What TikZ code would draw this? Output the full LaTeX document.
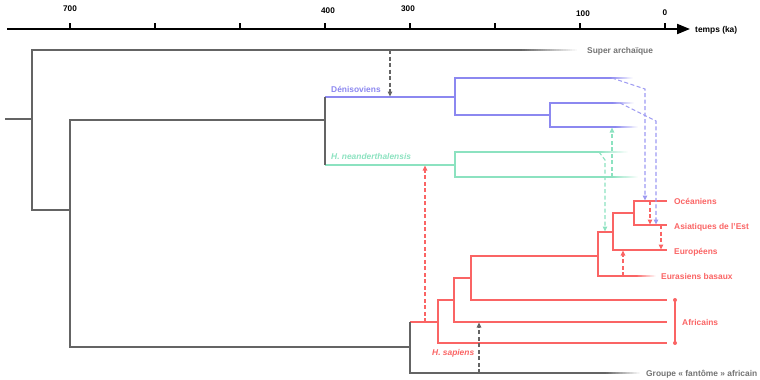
\documentclass[tikz,border=0pt]{standalone}
\usepackage{fontspec}
\setmainfont{Liberation Sans}
\usetikzlibrary{arrows.meta}
\definecolor{cgray}{RGB}{100,100,100}
\definecolor{ctgray}{RGB}{115,115,115}
\definecolor{cpurp}{RGB}{140,136,240}
\definecolor{cteal}{RGB}{140,226,192}
\definecolor{cred}{RGB}{250,100,100}
\newcommand\fadeln[4]{%
  \foreach \i in {0,...,24}{%
    \pgfmathsetmacro\xa{#2+(#3-#2)*\i/25}%
    \pgfmathsetmacro\xb{#2+(#3-#2)*(\i+1)/25+0.3}%
    \pgfmathtruncatemacro\pc{100-4*\i}%
    \draw[line width=2.2pt,draw=#1!\pc!white] (\xa,#4) -- (\xb,#4);}}
\begin{document}
\begin{tikzpicture}[x=1pt,y=-1pt,
  br/.style={line width=2.2pt, line join=miter},
  gbr/.style={br, draw=cgray},
  pbr/.style={br, draw=cpurp},
  tbr/.style={br, draw=cteal},
  rbr/.style={br, draw=cred},
  dsh/.style={line width=1.1pt, dash pattern=on 4pt off 2.5pt, -{Triangle[length=5pt,width=4.5pt]}, shorten >=0.5pt},
  lab/.style={font=\fontsize{8.4}{10}\selectfont\bfseries, anchor=base west, inner sep=0pt},
  tlab/.style={font=\fontsize{8.2}{10}\selectfont\bfseries, anchor=base, inner sep=0pt},
  tick/.style={line width=1.5pt}
]
\useasboundingbox (0,0) rectangle (760,380);

% ---------- time axis ----------
\coordinate (ax0) at (7,29);
\coordinate (ax1) at (690,29);
\draw[line width=2pt, -{Triangle[length=13pt,width=10pt]}] (ax0) -- (ax1);
\foreach \x in {70,155,240,325,410,495,580,665} \draw[tick] (\x,23) -- (\x,29);
\node[tlab] (t700) at (70,11.3) {700};
\node[tlab] (t400) at (328,13.6) {400};
\node[tlab] (t300) at (408,11.9) {300};
\node[tlab] (t100) at (583,16.8) {100};
\node[tlab] (t0) at (665,15.9) {0};
\node[lab] (temps) at (695,32) {temps (ka)};

% ---------- coordinates ----------
\coordinate (root) at (5,119);
\coordinate (n1) at (32,119);
\coordinate (saend) at (520,50);
\coordinate (n2) at (70,210);
\coordinate (na) at (325,120);
\coordinate (ns) at (410,347);
\coordinate (nd0) at (325,97);
\coordinate (nn0) at (325,165);
\coordinate (hs) at (410,322);
\coordinate (ghend) at (605,373);
% Denisovans
\coordinate (nd1) at (455,97);
\coordinate (nd2) at (550,115);
\coordinate (d1end) at (610,78);
\coordinate (d2end) at (612,103);
\coordinate (d3end) at (615,127);
% Neanderthals
\coordinate (nn1) at (455,165);
\coordinate (ne1end) at (598,152);
\coordinate (ne2end) at (612,177);
% sapiens
\coordinate (r1) at (438,322);
\coordinate (r2) at (454,300);
\coordinate (r3) at (471,278);
\coordinate (r4) at (598,256);
\coordinate (r5) at (613,232);
\coordinate (r6) at (634,213);
\coordinate (af1) at (667,300);
\coordinate (af2) at (667,322);
\coordinate (af3) at (667,343);
\coordinate (ebend) at (636,276);
\coordinate (eu) at (667,250);
\coordinate (oc) at (667,201);
\coordinate (as) at (667,225);

% ---------- coloured branches ----------
\draw[pbr] (nd0) -- (nd1);
\draw[pbr] (d1end) -| (nd1) |- (nd2);
\draw[pbr] (d2end) -| (nd2) |- (d3end);
\fadeln{cpurp}{610}{633}{78}
\fadeln{cpurp}{612}{634}{103}
\fadeln{cpurp}{615}{638}{127}

\draw[tbr] (nn0) -- (nn1);
\draw[tbr] (ne1end) -| (nn1) |- (ne2end);
\fadeln{cteal}{598}{628}{152}
\fadeln{cteal}{612}{638}{177}

\draw[rbr] (hs) -- (r1);
\draw[rbr] (r2) -| (r1) |- (af3);
\draw[rbr] (r3) -| (r2) |- (af2);
\draw[rbr] (r4) -| (r3) |- (af1);
\draw[rbr] (r5) -| (r4) |- (ebend);
\draw[rbr] (r6) -| (r5) |- (eu);
\draw[rbr] (oc) -| (r6) |- (as);
\fadeln{cred}{636}{656}{276}

% ---------- gray branches ----------
\draw[gbr] (root) -- (n1);
\draw[gbr] (saend) -| (n1) |- (n2);
\draw[gbr] (na) -| (n2) |- (ns);
\draw[gbr] (nd0) -- (nn0);
\draw[gbr] (hs) |- (ghend);
\fadeln{cgray}{520}{577}{50}
\fadeln{cgray}{605}{640}{373}

% ---------- gene flow arrows ----------
\coordinate (ga1) at (390,50);   \coordinate (ga2) at (390,97);
\coordinate (ga3) at (479,373);  \coordinate (ga4) at (479,322);
\draw[dsh, draw=cgray] (ga1) -- (ga2);
\draw[dsh, draw=cgray] (ga3) -- (ga4);

\coordinate (pa1) at (612,78);  \coordinate (pa2) at (645,89);  \coordinate (pa3) at (645,201);
\coordinate (pb1) at (620,103); \coordinate (pb2) at (656,121); \coordinate (pb3) at (656,225);
\draw[dsh, draw=cpurp!85] (pa1) -- (pa2) -- (pa3);
\draw[dsh, draw=cpurp!85] (pb1) -- (pb2) -- (pb3);

\coordinate (ta1) at (599,152); \coordinate (ta2) at (605,160); \coordinate (ta3) at (605,232);
\coordinate (tb1) at (612,177); \coordinate (tb2) at (612,127);
\draw[dsh, draw=cteal] (ta1) -- (ta2) -- (ta3);
\draw[dsh, draw=cteal] (tb1) -- (tb2);

\coordinate (ra1) at (425,322); \coordinate (ra2) at (425,165);
\coordinate (rb1) at (650,201); \coordinate (rb2) at (650,225);
\coordinate (rc1) at (661,225); \coordinate (rc2) at (661,250);
\coordinate (rd1) at (623,276); \coordinate (rd2) at (623,250);
\draw[dsh, draw=cred] (ra1) -- (ra2);
\draw[dsh, draw=cred] (rb1) -- (rb2);
\draw[dsh, draw=cred] (rc1) -- (rc2);
\draw[dsh, draw=cred] (rd1) -- (rd2);

% Africains bracket
\coordinate (bk1) at (675,300); \coordinate (bk2) at (675,343);
\draw[cred, line width=1.2pt] (bk1) -- (bk2);
\fill[cred] (bk1) circle (2pt) (bk2) circle (2pt);

% ---------- labels ----------
\node[lab, text=ctgray] (lsa) at (587,53) {Super archaïque};
\node[lab, text=cpurp] (lden) at (331,92) {Dénisoviens};
\node[lab, text=cteal] (lnea) at (331,159) {\itshape H. neanderthalensis};
\node[lab, text=cred] (loc) at (674,204) {Océaniens};
\node[lab, text=cred] (las) at (674,229) {Asiatiques de l'Est};
\node[lab, text=cred] (leu) at (674,254) {Européens};
\node[lab, text=cred] (leb) at (661,279) {Eurasiens basaux};
\node[lab, text=cred] (laf) at (682,325) {Africains};
\node[lab, text=cred] (lhs) at (432,355) {\itshape H. sapiens};
\node[lab, text=ctgray] (lgh) at (646,376) {Groupe « fantôme » africain};
\end{tikzpicture}
\end{document}
